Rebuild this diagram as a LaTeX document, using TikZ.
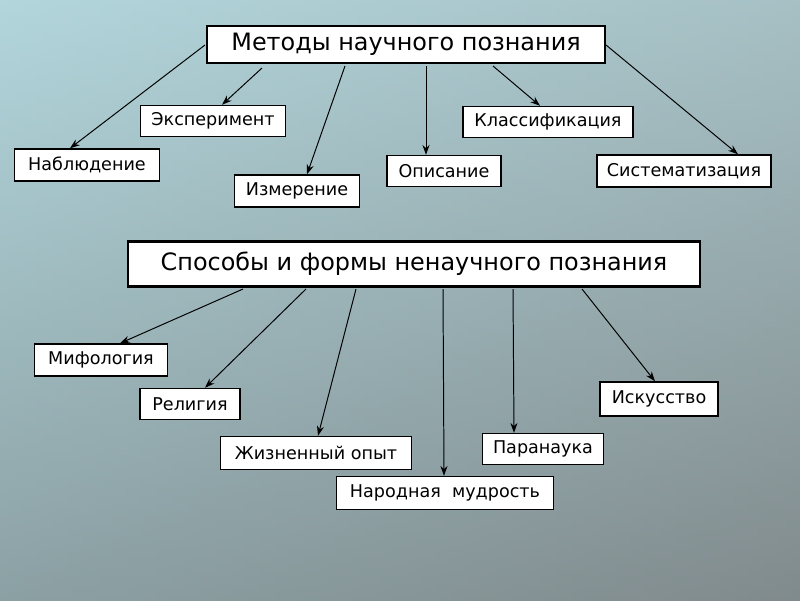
\documentclass[tikz,border=0pt]{standalone}
\usepackage{fontspec}
\setmainfont{DejaVu Sans}
\usetikzlibrary{arrows.meta}
\begin{document}
\begin{tikzpicture}[x=0.025cm,y=-0.025cm,
  box/.style={draw=black,fill=white,line width=1pt,inner sep=0pt,font=\fontsize{12.5}{14}\selectfont},
  title/.style={draw=black,fill=white,line width=2pt,inner sep=0pt,font=\fontsize{17}{20}\selectfont},
  arr/.style={-{Stealth[length=7pt,width=5pt]},line width=0.7pt,draw=black}]
\shade[left color={rgb,255:red,178;green,214;blue,220},right color={rgb,255:red,150;green,160;blue,162}] (0,0) rectangle (800,600);
\shade[top color={rgb,255:red,178;green,214;blue,220},bottom color={rgb,255:red,115;green,125;blue,127},opacity=0.6] (0,0) rectangle (800,600);
\useasboundingbox (0,0) rectangle (800,600);
\node[title,minimum width=398*0.025cm,minimum height=37*0.025cm] (t1) at (406,44.5) {Методы научного познания};
\node[box,minimum width=145*0.025cm,minimum height=31*0.025cm] (eks) at (213,121) {Эксперимент};
\node[box,minimum width=145*0.025cm,minimum height=32*0.025cm] (nab) at (87,165) {Наблюдение};
\node[box,minimum width=125*0.025cm,minimum height=32*0.025cm] (izm) at (297,191) {Измерение};
\node[box,minimum width=114*0.025cm,minimum height=31*0.025cm] (opi) at (444,171) {Описание};
\node[box,minimum width=170*0.025cm,minimum height=31*0.025cm] (kla) at (548,122) {Классификация};
\node[box,minimum width=174*0.025cm,minimum height=32*0.025cm] (sis) at (684,171) {Систематизация};
\node[title,minimum width=572*0.025cm,minimum height=45*0.025cm] (t2) at (414,264) {Способы и формы ненаучного познания};
\node[box,minimum width=133*0.025cm,minimum height=32*0.025cm] (mif) at (101,360) {Мифология};
\node[box,minimum width=100*0.025cm,minimum height=31*0.025cm] (rel) at (190,404) {Религия};
\node[box,minimum width=191*0.025cm,minimum height=33*0.025cm] (zhi) at (316,453) {Жизненный опыт};
\node[box,minimum width=217*0.025cm,minimum height=33*0.025cm] (nar) at (445,493) {Народная\ \ мудрость};
\node[box,minimum width=121*0.025cm,minimum height=31*0.025cm] (par) at (543,449) {Паранаука};
\node[box,minimum width=118*0.025cm,minimum height=34*0.025cm] (isk) at (659,399) {Искусство};
\coordinate (a1) at (205,45); \coordinate (a2) at (262,68); \coordinate (a3) at (345,66);
\coordinate (a4) at (426,66); \coordinate (a5) at (493,66); \coordinate (a6) at (606,45);
\coordinate (b1) at (243,289); \coordinate (b2) at (306,289); \coordinate (b3) at (356,289);
\coordinate (b4) at (443,289); \coordinate (b5) at (513,289); \coordinate (b6) at (582,289);
\draw[arr] (a1) -- (nab.north -| 70,0);
\draw[arr] (a2) -- (eks.north -| 222,0);
\draw[arr] (a3) -- (izm.north -| 307,0);
\draw[arr] (a4) -- (opi.north -| 426,0);
\draw[arr] (a5) -- (kla.north -| 540,0);
\draw[arr] (a6) -- (sis.north -| 738,0);
\draw[arr] (b1) -- (mif.north -| 120,0);
\draw[arr] (b2) -- (rel.north -| 205,0);
\draw[arr] (b3) -- (zhi.north -| 318,0);
\draw[arr] (b4) -- (nar.north -| 444,0);
\draw[arr] (b5) -- (par.north -| 514,0);
\draw[arr] (b6) -- (isk.north -| 655,0);
\end{tikzpicture}
\end{document}
